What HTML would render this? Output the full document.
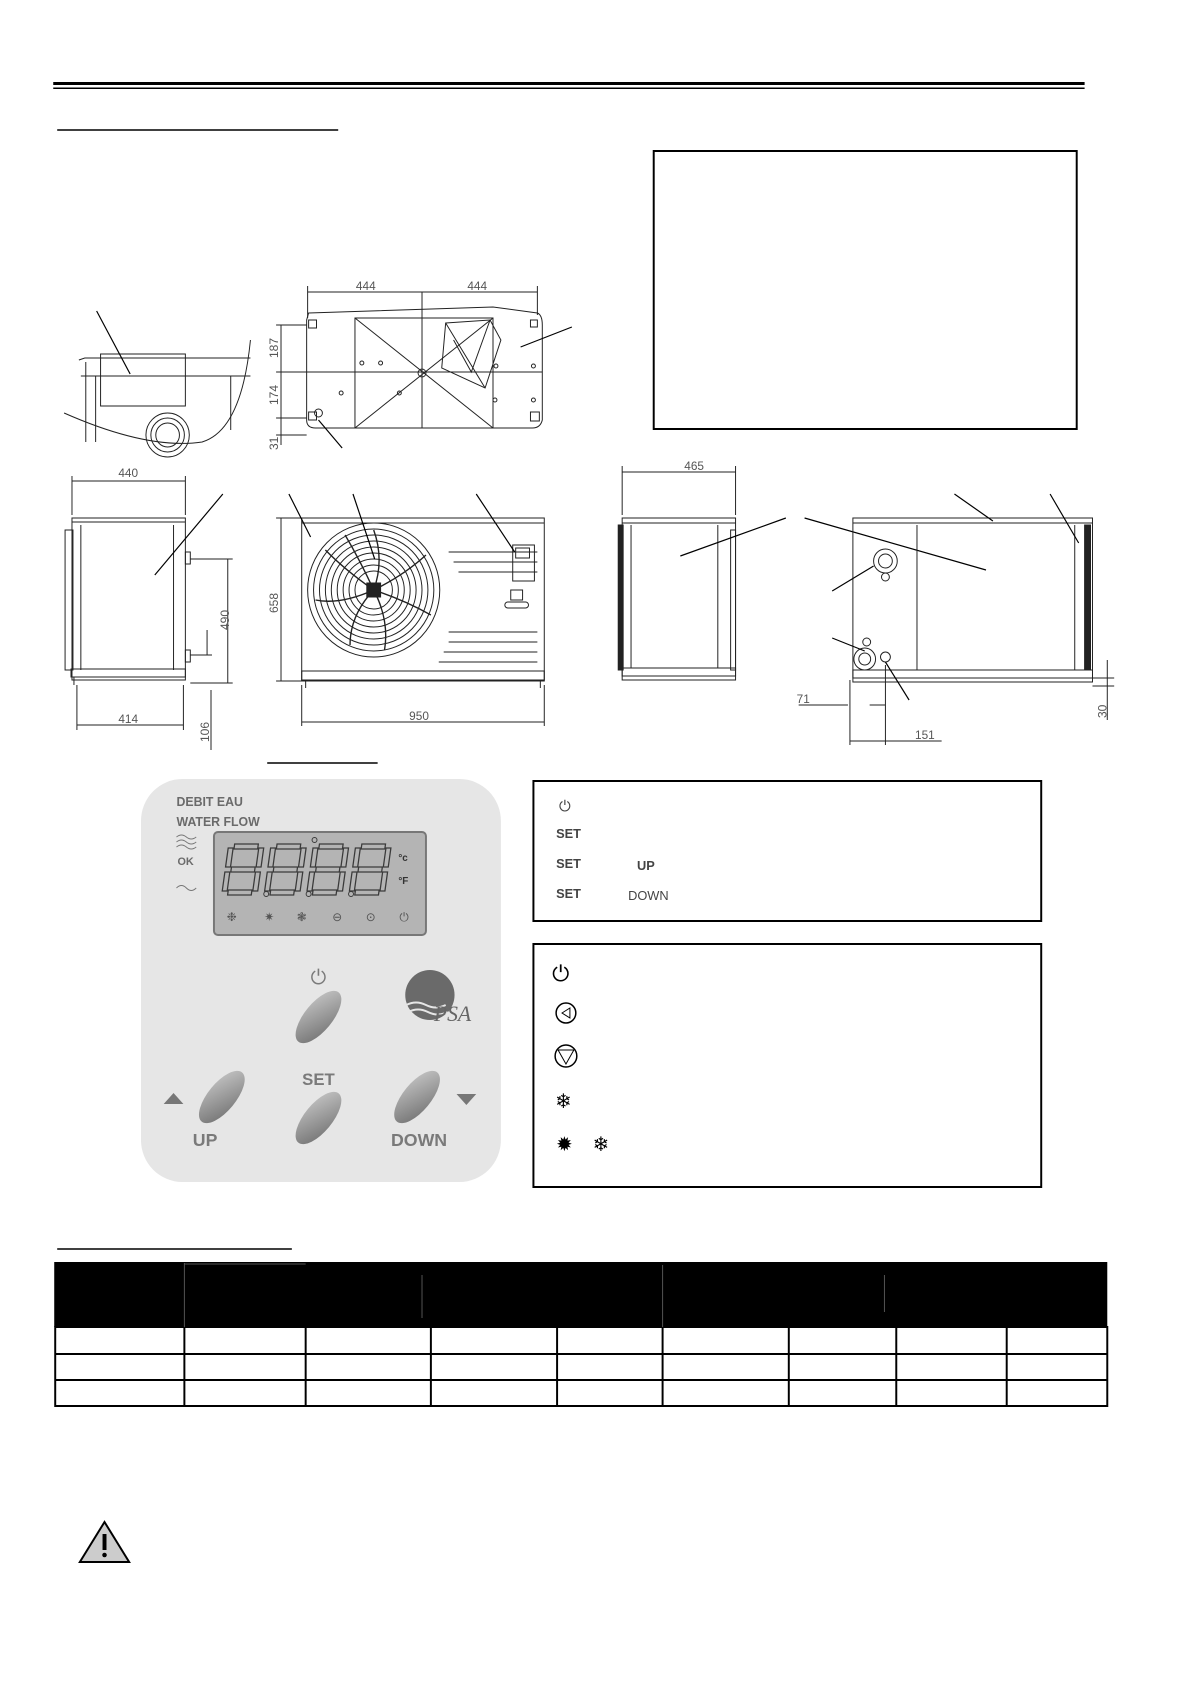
<!DOCTYPE html>
<html><head><meta charset="utf-8"><style>
html,body{margin:0;padding:0;background:#fff}
svg{display:block}
</style></head><body>
<svg width="1190" height="1684" viewBox="0 0 1190 1684" xmlns="http://www.w3.org/2000/svg" font-family="Liberation Sans, sans-serif">
<defs>
<linearGradient id="g" x1="0" y1="0" x2="1" y2="1"><stop offset="0" stop-color="#c8c8c8"/><stop offset="1" stop-color="#6f6f6f"/></linearGradient>
<g id="d8" fill="none" stroke="#3a3a3a" stroke-width="1.3">
<rect x="6" y="0" width="24" height="5"/><rect x="6" y="23" width="24" height="5"/><rect x="6" y="46" width="24" height="5"/>
<rect x="0" y="4" width="5" height="19"/><rect x="31" y="4" width="5" height="19"/><rect x="0" y="28" width="5" height="19"/><rect x="31" y="28" width="5" height="19"/>
</g>
</defs>
<g transform="scale(0.986 1)">
<!-- header lines -->
<rect x="54" y="82" width="1046" height="3" fill="#000"/>
<rect x="54" y="87.5" width="1046" height="1.5" fill="#000"/>
<line x1="58" y1="130" x2="343" y2="130" stroke="#000" stroke-width="1.5"/>
<rect x="663" y="151" width="429" height="278" fill="none" stroke="#000" stroke-width="2"/>

<g fill="none" stroke="#222" stroke-width="1">
<path d="M80 360 L86 358 L254 358" />
<path d="M82 376 L254 376"/>
<path d="M87 362 L87 442"/><path d="M97 376 L97 442"/>
<rect x="102" y="354" width="86" height="52"/>
<line x1="234" y1="376" x2="234" y2="430"/>
<circle cx="170" cy="435" r="22"/><circle cx="170" cy="435" r="17"/><circle cx="170" cy="435" r="12"/>
<path d="M65 413 Q150 450 205 442 Q245 430 254 340" />
<line x1="98" y1="311" x2="132" y2="374" stroke="#000" stroke-width="1.2"/>

<path d="M313 313 L500 307 L545 313 Q550 315 550 325 L550 420 Q548 428 540 428 L320 428 Q311 428 311 420 L311 320 Z"/>
<rect x="360" y="318" width="140" height="110"/>
<line x1="360" y1="318" x2="500" y2="428"/><line x1="500" y1="318" x2="360" y2="428"/>
<line x1="428" y1="292" x2="428" y2="428"/>
<line x1="311" y1="372" x2="550" y2="372"/>
<path d="M452 323 L497 320 L508 340 L492 388 L448 368 Z"/><path d="M460 340 L478 372 L497 320 M452 323 L492 388"/>
<rect x="313" y="320" width="8" height="8"/><rect x="313" y="412" width="8" height="8"/><rect x="538" y="412" width="9" height="9"/><rect x="538" y="320" width="7" height="7"/>
<circle cx="428" cy="373" r="4"/>
<circle cx="367" cy="363" r="2"/><circle cx="386" cy="363" r="2"/><circle cx="346" cy="393" r="2"/><circle cx="405" cy="393" r="2"/><circle cx="503" cy="366" r="2"/><circle cx="502" cy="400" r="2"/><circle cx="541" cy="366" r="2"/><circle cx="541" cy="400" r="2"/>
<circle cx="323" cy="413" r="4"/>
<line x1="312" y1="292" x2="545" y2="292"/><line x1="312" y1="286" x2="312" y2="318"/><line x1="545" y1="286" x2="545" y2="315"/>
<line x1="285" y1="325" x2="285" y2="445"/>
<line x1="280" y1="325" x2="311" y2="325"/><line x1="280" y1="372" x2="311" y2="372"/><line x1="280" y1="418" x2="311" y2="418"/><line x1="280" y1="435" x2="311" y2="435"/>
<line x1="580" y1="327" x2="528" y2="347" stroke="#000" stroke-width="1.2"/>
<line x1="347" y1="448" x2="323" y2="420" stroke="#000" stroke-width="1.2"/>

<path d="M73 518 L188 518 L188 680 L73 680 Z"/>
<line x1="73" y1="522" x2="188" y2="522"/>
<line x1="82" y1="525" x2="82" y2="670"/><line x1="176" y1="525" x2="176" y2="670"/>
<rect x="72" y="669" width="116" height="8"/>
<line x1="75" y1="677" x2="75" y2="685"/>
<rect x="66" y="530" width="8" height="140"/>
<rect x="188" y="552" width="5" height="12"/><rect x="188" y="650" width="5" height="12"/>
<line x1="73" y1="481" x2="188" y2="481"/><line x1="73" y1="476" x2="73" y2="515"/><line x1="188" y1="476" x2="188" y2="515"/>
<line x1="231" y1="559" x2="231" y2="683"/><line x1="193" y1="559" x2="236" y2="559"/><line x1="193" y1="683" x2="236" y2="683"/>
<line x1="210" y1="630" x2="210" y2="655"/><line x1="193" y1="655" x2="215" y2="655"/>
<line x1="78" y1="725" x2="186" y2="725"/><line x1="78" y1="685" x2="78" y2="730"/><line x1="186" y1="685" x2="186" y2="730"/>
<line x1="214" y1="690" x2="214" y2="750"/>
<line x1="226" y1="494" x2="157" y2="575" stroke="#000" stroke-width="1.2"/>

<rect x="306" y="518" width="246" height="163"/>
<line x1="306" y1="523" x2="552" y2="523"/>
<rect x="306" y="671" width="246" height="9"/>
<line x1="310" y1="680" x2="310" y2="688"/><line x1="548" y1="680" x2="548" y2="688"/>
<circle cx="379" cy="590" r="67"/><circle cx="379" cy="590" r="61"/>
<circle cx="379" cy="590" r="55"/><circle cx="379" cy="590" r="49"/><circle cx="379" cy="590" r="43"/><circle cx="379" cy="590" r="37"/><circle cx="379" cy="590" r="31"/><circle cx="379" cy="590" r="25"/><circle cx="379" cy="590" r="19"/>
<g stroke-width="1.4">
<path d="M379 590 Q390 560 379 530"/><path d="M379 590 Q410 575 432 555"/><path d="M379 590 Q410 600 437 615"/><path d="M379 590 Q395 620 390 650"/><path d="M379 590 Q355 615 355 645"/><path d="M379 590 Q345 605 320 600"/><path d="M379 590 Q350 570 330 550"/><path d="M379 590 Q365 560 350 535"/>
</g>
<rect x="372" y="583" width="14" height="14" fill="#222"/>
<path d="M455 552 L545 552 M460 562 L545 562 M465 572 L545 572 M455 632 L545 632 M455 642 L545 642 M450 652 L545 652 M445 662 L545 662"/>
<rect x="520" y="545" width="22" height="36"/><rect x="523" y="548" width="14" height="10"/>
<rect x="518" y="590" width="12" height="10"/><rect x="512" y="602" width="24" height="6" rx="3"/>
<line x1="285" y1="518" x2="285" y2="681"/><line x1="280" y1="518" x2="306" y2="518"/><line x1="280" y1="681" x2="306" y2="681"/>
<line x1="306" y1="722" x2="552" y2="722"/><line x1="306" y1="685" x2="306" y2="726"/><line x1="552" y1="685" x2="552" y2="726"/>
<line x1="293" y1="494" x2="315" y2="537" stroke="#000" stroke-width="1.2"/>
<line x1="358" y1="494" x2="380" y2="559" stroke="#000" stroke-width="1.2"/>
<line x1="483" y1="494" x2="522" y2="552" stroke="#000" stroke-width="1.2"/>

<rect x="631" y="518" width="115" height="162"/>
<line x1="631" y1="523" x2="746" y2="523"/>
<line x1="640" y1="525" x2="640" y2="668"/><line x1="728" y1="525" x2="728" y2="668"/>
<rect x="631" y="668" width="115" height="8"/>
<rect x="627" y="525" width="5" height="145" fill="#222"/>
<rect x="741" y="530" width="5" height="140"/>
<line x1="631" y1="472" x2="746" y2="472"/><line x1="631" y1="466" x2="631" y2="515"/><line x1="746" y1="466" x2="746" y2="515"/>
<line x1="797" y1="518" x2="690" y2="556" stroke="#000" stroke-width="1.2"/>
<line x1="816" y1="518" x2="1000" y2="570" stroke="#000" stroke-width="1.2"/>

<rect x="865" y="518" width="243" height="164"/>
<line x1="865" y1="523" x2="1108" y2="523"/>
<line x1="930" y1="525" x2="930" y2="670"/>
<line x1="1090" y1="525" x2="1090" y2="670"/>
<rect x="1100" y="525" width="6" height="145" fill="#222"/>
<rect x="865" y="670" width="243" height="8"/>
<circle cx="898" cy="561" r="12"/><circle cx="898" cy="561" r="7"/>
<circle cx="898" cy="577" r="4"/>
<circle cx="877" cy="659" r="11"/><circle cx="877" cy="659" r="6"/>
<circle cx="898" cy="657" r="5"/>
<circle cx="879" cy="642" r="4"/>
<line x1="968" y1="494" x2="1007" y2="521" stroke="#000" stroke-width="1.2"/>
<line x1="1065" y1="494" x2="1094" y2="543" stroke="#000" stroke-width="1.2"/>
<line x1="844" y1="591" x2="886" y2="566" stroke="#000" stroke-width="1.2"/>
<line x1="844" y1="638" x2="877" y2="651" stroke="#000" stroke-width="1.2"/>
<line x1="922" y1="700" x2="898" y2="662" stroke="#000" stroke-width="1.2"/>
<line x1="810" y1="705" x2="860" y2="705"/><line x1="882" y1="705" x2="898" y2="705"/>
<line x1="862" y1="680" x2="862" y2="745"/><line x1="898" y1="665" x2="898" y2="745"/>
<line x1="862" y1="741" x2="898" y2="741"/><line x1="898" y1="741" x2="955" y2="741"/>
<line x1="1123" y1="660" x2="1123" y2="720"/><line x1="1108" y1="678" x2="1130" y2="678"/><line x1="1108" y1="686" x2="1130" y2="686"/>
</g>
<g font-size="12" fill="#555" font-family="Liberation Sans Narrow, Liberation Sans, sans-serif">
<text x="361" y="290">444</text><text x="474" y="290">444</text>
<text x="120" y="477">440</text><text x="694" y="470">465</text>
<text x="120" y="723">414</text><text x="415" y="720">950</text>
<text x="808" y="703">71</text><text x="928" y="739">151</text>
<text transform="translate(282 358) rotate(-90)">187</text>
<text transform="translate(282 405) rotate(-90)">174</text>
<text transform="translate(282 450) rotate(-90)">31</text>
<text transform="translate(282 613) rotate(-90)">658</text>
<text transform="translate(232 630) rotate(-90)">490</text>
<text transform="translate(212 742) rotate(-90)">106</text>
<text transform="translate(1122 718) rotate(-90)">30</text>
</g>

<!-- display section -->
<line x1="271" y1="763" x2="383" y2="763" stroke="#000" stroke-width="1.5"/>
<rect x="143" y="779" width="365" height="403" rx="42" fill="#e6e6e6"/>
<g font-weight="bold" fill="#6a6a6a" font-size="12.5">
<text x="179" y="806">DEBIT EAU</text><text x="179" y="826">WATER FLOW</text>
<text x="180" y="865" font-size="11">OK</text>
</g>
<path d="M179 837 q5 -4 10 0 t10 0 M179 842 q5 -4 10 0 t10 0 M179 847 q5 -4 10 0 t10 0 M179 888 q5 -5 10 0 t10 0" stroke="#777" fill="none"/>
<rect x="217" y="832" width="215" height="103" rx="4" fill="#b4b4b4" stroke="#777" stroke-width="2"/>
<use href="#d8" transform="translate(232 844) skewX(-8)"/>
<use href="#d8" transform="translate(275 844) skewX(-8)"/>
<use href="#d8" transform="translate(318 844) skewX(-8)"/>
<use href="#d8" transform="translate(361 844) skewX(-8)"/>
<g fill="none" stroke="#3a3a3a"><circle cx="270" cy="894" r="2.5"/><circle cx="313" cy="894" r="2.5"/><circle cx="356" cy="894" r="2.5"/><circle cx="319" cy="840" r="2.5"/></g>
<text x="404" y="861" font-size="10" font-weight="bold" fill="#333">°c</text>
<text x="404" y="884" font-size="10" font-weight="bold" fill="#333">°F</text>
<g font-size="12" fill="#555"><text x="230" y="921">❉</text><text x="268" y="921">✷</text><text x="301" y="921">❃</text><text x="337" y="921">⊖</text><text x="371" y="921">⊙</text><text x="405" y="921">⏻</text></g>
<g fill="#7a7a7a" font-weight="bold">
<text x="323" y="984" font-size="20" text-anchor="middle" font-weight="normal">⏻</text>
<text x="323" y="1085" font-size="17" text-anchor="middle">SET</text>
<text x="208" y="1146" font-size="18" text-anchor="middle">UP</text>
<text x="425" y="1146" font-size="18" text-anchor="middle">DOWN</text>
</g>
<g fill="url(#g)">
<ellipse cx="323" cy="1017" rx="14" ry="32" transform="rotate(40 323 1017)"/>
<ellipse cx="225" cy="1097" rx="14" ry="32" transform="rotate(40 225 1097)"/>
<ellipse cx="323" cy="1118" rx="14" ry="32" transform="rotate(40 323 1118)"/>
<ellipse cx="423" cy="1097" rx="14" ry="32" transform="rotate(40 423 1097)"/>
</g>
<path d="M166 1104 L186 1104 L176 1093 Z M463 1094 L483 1094 L473 1105 Z" fill="#777"/>
<circle cx="436" cy="995" r="25" fill="#6a6a6a"/>
<path d="M412 1005 q10 -5 20 0 t20 0 M414 1012 q10 -5 20 0 t20 0" stroke="#e6e6e6" stroke-width="2" fill="none"/>
<text x="440" y="1021" font-family="Liberation Serif, serif" font-style="italic" font-size="22" fill="#666">PSA</text>

<rect x="541" y="781" width="515" height="140" fill="none" stroke="#000" stroke-width="2"/>
<g font-size="13" font-weight="bold" fill="#444">
<text x="567" y="811" font-weight="normal" font-size="15">⏻</text>
<text x="564" y="838">SET</text><text x="564" y="868">SET</text><text x="564" y="898">SET</text>
<text x="646" y="870">UP</text><text x="637" y="900" font-weight="normal">DOWN</text>
</g>
<rect x="541" y="944" width="515" height="243" fill="none" stroke="#000" stroke-width="2"/>
<g font-size="22" fill="#000">
<text x="560" y="981">⏻</text>
<circle cx="574" cy="1013" r="10" fill="none" stroke="#000" stroke-width="1.5"/>
<path d="M570 1013 L578 1008 L578 1018 Z" fill="none" stroke="#000"/>
<circle cx="574" cy="1056" r="11" fill="none" stroke="#000" stroke-width="1.5"/>
<path d="M566 1050 L582 1050 L574 1064 Z" fill="none" stroke="#000"/>
<text x="563" y="1108" font-size="20">❄</text>
<text x="564" y="1151" font-size="20">✹</text><text x="601" y="1151" font-size="20">❄</text>
</g>

<line x1="58" y1="1249" x2="296" y2="1249" stroke="#000" stroke-width="1.5"/>
<rect x="55" y="1262" width="1068" height="65" fill="#000"/>
<g stroke="#000" stroke-width="2" fill="none">
<rect x="56" y="1327" width="1067" height="79"/>
<line x1="56" y1="1354" x2="1123" y2="1354"/><line x1="56" y1="1380" x2="1123" y2="1380"/>
<line x1="187" y1="1327" x2="187" y2="1406"/><line x1="310" y1="1327" x2="310" y2="1406"/><line x1="437" y1="1327" x2="437" y2="1406"/><line x1="565" y1="1327" x2="565" y2="1406"/><line x1="672" y1="1327" x2="672" y2="1406"/><line x1="800" y1="1327" x2="800" y2="1406"/><line x1="909" y1="1327" x2="909" y2="1406"/><line x1="1021" y1="1327" x2="1021" y2="1406"/>
</g>
<g stroke="#555" stroke-width="1">
<line x1="187" y1="1263" x2="187" y2="1327"/><line x1="187" y1="1264" x2="310" y2="1264"/><line x1="672" y1="1265" x2="672" y2="1327"/><line x1="428" y1="1275" x2="428" y2="1318"/><line x1="897" y1="1275" x2="897" y2="1312"/>
</g>

<path d="M106 1522 L131 1562 L81 1562 Z" fill="#ccc" stroke="#000" stroke-width="2"/>
<rect x="104" y="1534" width="4" height="16" fill="#000"/><circle cx="106" cy="1555" r="2.3" fill="#000"/>
</g>
</svg>
</body></html>
